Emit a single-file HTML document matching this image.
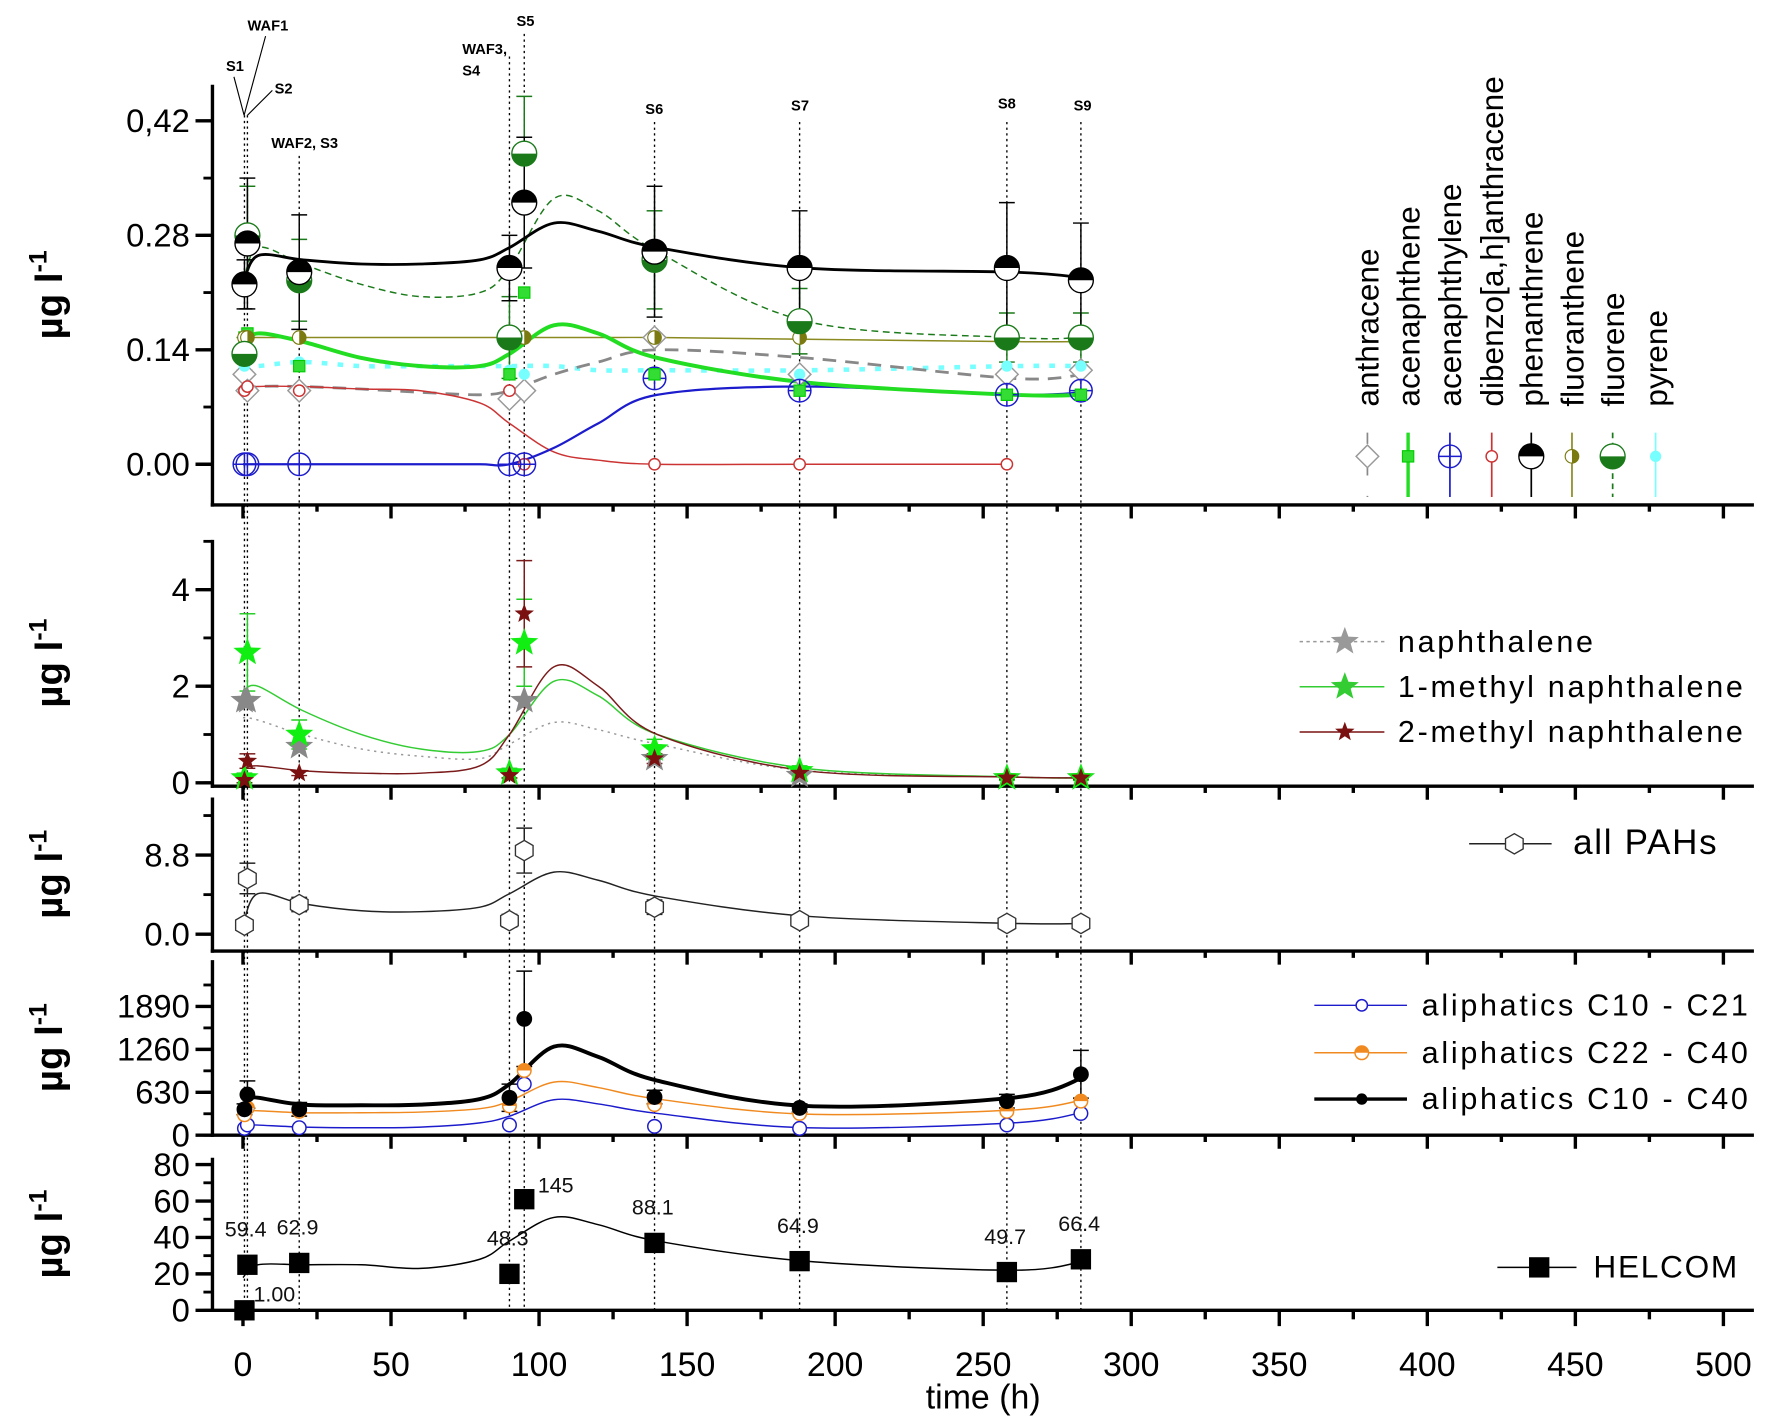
<!DOCTYPE html>
<html><head><meta charset="utf-8"><style>
html,body{margin:0;padding:0;background:#fff}
svg{display:block;font-family:"Liberation Sans",Arial,sans-serif}
</style></head><body>
<svg id="chart" width="1772" height="1421" viewBox="0 0 1568 1258" preserveAspectRatio="none" xmlns="http://www.w3.org/2000/svg"></svg>
<script>
// ---------- data ----------
const sampleTimes = [0.5, 1.5, 19, 90, 95, 139, 188, 258, 283];
const fitTimes = [0, 5, 20, 40, 60, 80, 90, 105, 120, 140, 190, 260, 284];
const xTicks = [0, 50, 100, 150, 200, 250, 300, 350, 400, 450, 500];
// panel 1
const p1Ticks = [0, 0.14, 0.28, 0.42];
const p1TickLabels = ["0.00", "0.14", "0.28", "0,42"];
const phenVals = [0.22, 0.27, 0.235, 0.24, 0.32, 0.26, 0.24, 0.24, 0.225];
const phenErr = [0.03, 0.08, 0.07, 0.04, 0.08, 0.08, 0.07, 0.08, 0.07];
const phenFit = [0.22, 0.255, 0.25, 0.245, 0.245, 0.25, 0.265, 0.295, 0.285, 0.265, 0.24, 0.235, 0.228];
const fluoreneVals = [0.135, 0.28, 0.225, 0.155, 0.38, 0.25, 0.175, 0.155, 0.155];
const fluoreneErr = [0.02, 0.06, 0.05, 0.05, 0.07, 0.06, 0.04, 0.03, 0.03];
const fluoreneFit = [0.22, 0.265, 0.245, 0.22, 0.205, 0.21, 0.24, 0.325, 0.31, 0.26, 0.175, 0.155, 0.155];
const acenVals = [0.155, 0.16, 0.12, 0.11, 0.21, 0.11, 0.09, 0.085, 0.085];
const acenFit = [0.145, 0.16, 0.15, 0.13, 0.12, 0.12, 0.135, 0.17, 0.16, 0.13, 0.1, 0.085, 0.085];
const acenyVals = [0, 0, 0, 0, 0, 0.105, 0.09, 0.085, 0.09];
const acenyFit = [0, 0, 0, 0, 0, 0, 0, 0.02, 0.05, 0.085, 0.095, 0.085, 0.088];
const dibenzVals = [0.09, 0.095, 0.09, 0.09, 0, 0, 0, 0];
const dibenzFit = [0.09, 0.095, 0.095, 0.092, 0.09, 0.075, 0.05, 0.015, 0.005, 0, 0, 0];
const anthVals = [0.11, 0.09, 0.09, 0.08, 0.09, 0.155, 0.11, 0.11, 0.115];
const anthFit = [0.09, 0.095, 0.095, 0.092, 0.088, 0.085, 0.09, 0.11, 0.125, 0.14, 0.13, 0.105, 0.11];
const pyreneVals = [0.12, 0.13, 0.125, 0.115, 0.11, 0.11, 0.11, 0.12, 0.12];
const pyreneFit = [0.12, 0.12, 0.125, 0.12, 0.12, 0.12, 0.12, 0.12, 0.115, 0.115, 0.115, 0.12, 0.12];
const fluorantVals = [0.155, 0.155, 0.155, 0.155, 0.155, 0.155, 0.155, 0.15, 0.15];
const fluorantFit = [0.155, 0.155, 0.155, 0.155, 0.155, 0.155, 0.155, 0.155, 0.155, 0.155, 0.153, 0.15, 0.15];
// panel 2
const p2Ticks = [0, 2, 4];
const naphVals = [1.7, 1.7, 0.75, 0.2, 1.7, 0.5, 0.15, 0.1, 0.1];
const naphFit = [1.35, 1.3, 1.0, 0.7, 0.55, 0.5, 0.8, 1.25, 1.1, 0.8, 0.25, 0.12, 0.1];
const m1Vals = [0.1, 2.7, 1.0, 0.2, 2.9, 0.7, 0.25, 0.1, 0.1];
const m1Err = [0.1, 0.8, 0.3, 0.1, 0.9, 0.2, 0.1, 0.05, 0.05];
const m1Fit = [1.9, 2.0, 1.5, 1.0, 0.7, 0.65, 1.0, 2.1, 1.8, 1.0, 0.3, 0.12, 0.1];
const m2Vals = [0.05, 0.45, 0.2, 0.15, 3.5, 0.5, 0.2, 0.1, 0.1];
const m2Err = [0.05, 0.15, 0.05, 0.05, 1.1, 0.1, 0.05, 0.03, 0.03];
const m2Fit = [0.3, 0.35, 0.25, 0.2, 0.2, 0.35, 1.0, 2.4, 2.0, 1.0, 0.25, 0.12, 0.1];
// panel 3
const p3Ticks = [0, 8.8];
const p3TickLabels = ["0.0", "8.8"];
const pahVals = [1.0, 6.2, 3.3, 1.5, 9.3, 3.0, 1.5, 1.2, 1.2];
const pahErr = [0.6, 1.7, 0.8, 0.7, 2.5, 0.8, 0.5, 0.4, 0.4];
const pahFit = [1.0, 4.5, 3.4, 2.6, 2.5, 3.0, 4.5, 6.9, 6.0, 4.2, 2.0, 1.2, 1.2];
// panel 4
const p4Ticks = [0, 630, 1260, 1890];
const aliTotVals = [380, 597, 380, 550, 1708, 560, 400, 500, 895];
const aliTotErr = [80, 200, 100, 200, 700, 100, 60, 100, 350];
const aliTotFit = [560, 550, 450, 440, 450, 530, 750, 1300, 1150, 800, 430, 550, 850];
const aliHeavyVals = [300, 400, 350, 430, 950, 450, 320, 350, 500];
const aliHeavyFit = [350, 360, 330, 330, 340, 390, 500, 780, 700, 530, 310, 370, 520];
const aliLightVals = [100, 150, 110, 150, 750, 130, 100, 150, 320];
const aliLightFit = [150, 150, 120, 110, 120, 180, 280, 520, 460, 320, 110, 180, 340];
// panel 5
const p5Ticks = [0, 20, 40, 60, 80];
const helcomVals = [0, 25, 26, 20, 61, 37, 27, 21, 28];
const helcomLabels = ["1.00", "59.4", "62.9", "48.3", "145", "88.1", "64.9", "49.7", "66.4"];
const helcomFit = [18, 25, 25, 25, 23, 28, 38, 51, 47, 38, 27, 22, 27];

// ---------- helpers ----------
const svg = document.getElementById('chart');
const NS = 'http://www.w3.org/2000/svg';
function mk(tag, attrs, parent) {
  const e = document.createElementNS(NS, tag);
  for (const k in attrs) e.setAttribute(k, attrs[k]);
  (parent || svg).appendChild(e);
  return e;
}
const X0 = 215, X1 = 1525, AXL = 188, AXR = 1552;
function xs(t) { return X0 + (X1 - X0) * t / 500; }
function ysF(v0, y0, v1, y1) { return v => y0 + (v - v0) * (y1 - y0) / (v1 - v0); }
const panels = [
  { y: ysF(0, 411, 0.42, 107), top: 75, bot: 447, minor: 0.07, max: 0.49 },
  { y: ysF(0, 693, 4, 522), top: 478, bot: 696, minor: 1, max: 5 },
  { y: ysF(0, 827, 8.8, 757), top: 706, bot: 842, minor: 4.4, max: 15 },
  { y: ysF(0, 1005, 1890, 891), top: 850, bot: 1005, minor: 315, max: 2500 },
  { y: ysF(0, 1160, 80, 1031), top: 1025, bot: 1160, minor: 10, max: 84 }
];
function smooth(pts) {
  if (pts.length < 2) return '';
  let d = 'M' + pts[0][0].toFixed(1) + ',' + pts[0][1].toFixed(1);
  for (let i = 0; i < pts.length - 1; i++) {
    const p0 = pts[i - 1] || pts[i], p1 = pts[i], p2 = pts[i + 1], p3 = pts[i + 2] || p2;
    const c1x = p1[0] + (p2[0] - p0[0]) / 6, c1y = p1[1] + (p2[1] - p0[1]) / 6;
    const c2x = p2[0] - (p3[0] - p1[0]) / 6, c2y = p2[1] - (p3[1] - p1[1]) / 6;
    d += ' C' + c1x.toFixed(1) + ',' + c1y.toFixed(1) + ' ' + c2x.toFixed(1) + ',' + c2y.toFixed(1) + ' ' + p2[0].toFixed(1) + ',' + p2[1].toFixed(1);
  }
  return d;
}
function fitLine(p, vals, name, color, width, dash) {
  const pts = vals.map((v, i) => [xs(fitTimes[i]), p.y(v)]);
  const e = mk('path', { d: smooth(pts), fill: 'none', stroke: color, 'stroke-width': width, 'stroke-dasharray': dash || 'none' });
  
  
}
function errBars(p, vals, errs, color, name) {
  const g = mk('g', { stroke: color, 'stroke-width': 1.3 });
  
  
  vals.forEach((v, i) => {
    const x = xs(sampleTimes[i]), ya = p.y(v + errs[i]), yb = p.y(Math.max(0, v - errs[i]));
    mk('line', { x1: x, x2: x, y1: ya, y2: yb }, g);
    mk('line', { x1: x - 7, x2: x + 7, y1: ya, y2: ya }, g);
    mk('line', { x1: x - 7, x2: x + 7, y1: yb, y2: yb }, g);
  });
}
function starPath(cx, cy, r) {
  let d = '';
  for (let i = 0; i < 10; i++) {
    const a = -Math.PI / 2 + i * Math.PI / 5, rr = i % 2 ? r * 0.42 : r;
    d += (i ? 'L' : 'M') + (cx + rr * Math.cos(a)).toFixed(1) + ',' + (cy + rr * Math.sin(a)).toFixed(1);
  }
  return d + 'Z';
}
function marker(kind, cx, cy, g) {
  if (kind === 'halfTop' || kind === 'halfBot') {
    const r = 11, c = g._color;
    mk('circle', { cx, cy, r, fill: '#fff', stroke: kind === 'halfTop' ? '#000' : '#1a7a1a', 'stroke-width': 1.2 }, g);
    const sweep = kind === 'halfTop' ? `M${cx - r},${cy} A${r},${r} 0 0 1 ${cx + r},${cy} Z` : `M${cx - r},${cy} A${r},${r} 0 0 0 ${cx + r},${cy} Z`;
    mk('path', { d: sweep, fill: c }, g);
  } else if (kind === 'circlePlus') {
    mk('circle', { cx, cy, r: 10, fill: 'none', stroke: '#1c1ccc', 'stroke-width': 1.3 }, g);
    mk('path', { d: `M${cx - 10},${cy}H${cx + 10}M${cx},${cy - 10}V${cy + 10}`, stroke: '#1c1ccc', 'stroke-width': 1.3 }, g);
  } else if (kind === 'smallCircle') {
    mk('circle', { cx, cy, r: 5, fill: '#fff', stroke: g._color, 'stroke-width': 1.3 }, g);
  } else if (kind === 'diamond') {
    mk('path', { d: `M${cx},${cy - 10}L${cx + 10},${cy}L${cx},${cy + 10}L${cx - 10},${cy}Z`, fill: '#fff', stroke: '#999', 'stroke-width': 1.3 }, g);
  } else if (kind === 'square') {
    mk('rect', { x: cx - 5, y: cy - 5, width: 10, height: 10, fill: '#3d3', stroke: '#0c0' }, g);
  } else if (kind === 'halfLeft') {
    mk('circle', { cx, cy, r: 6, fill: '#fff', stroke: '#7a7a10' }, g);
    mk('path', { d: `M${cx},${cy - 6} A6,6 0 0 1 ${cx},${cy + 6} Z`, fill: '#7a7a10' }, g);
  } else if (kind === 'pyrene') {
    mk('circle', { cx, cy, r: 5, fill: '#7ff' }, g);
  } else if (kind === 'star') {
    mk('path', { d: starPath(cx, cy, g._size), fill: g._color }, g);
  } else if (kind === 'hex') {
    let d = '';
    for (let i = 0; i < 6; i++) { const a = Math.PI / 6 + i * Math.PI / 3; d += (i ? 'L' : 'M') + (cx + 9 * Math.cos(a)).toFixed(1) + ',' + (cy + 9 * Math.sin(a)).toFixed(1); }
    mk('path', { d: d + 'Z', fill: '#fff', stroke: '#333', 'stroke-width': 1.2 }, g);
  } else if (kind === 'dot') {
    mk('circle', { cx, cy, r: g._size, fill: g._color, stroke: g._stroke || 'none', 'stroke-width': 1.3 }, g);
  } else if (kind === 'halfOrange') {
    mk('circle', { cx, cy, r: 6, fill: '#fff', stroke: '#f08a20', 'stroke-width': 1.3 }, g);
    mk('path', { d: `M${cx - 6},${cy} A6,6 0 0 1 ${cx + 6},${cy} Z`, fill: '#f08a20' }, g);
  } else if (kind === 'bigSquare') {
    mk('rect', { x: cx - 9, y: cy - 9, width: 18, height: 18, fill: '#000' }, g);
  }
}
function points(p, vals, kind, name, color, size, stroke) {
  const g = mk('g', {});
  
  
  g._color = color; g._size = size; g._stroke = stroke;
  vals.forEach((v, i) => marker(kind, xs(sampleTimes[i]), p.y(v), g));
}

// ---------- sample dotted lines ----------
const vg = mk('g', { stroke: '#000', 'stroke-width': 1.2, 'stroke-dasharray': '2,3' });


const lineTops = [102, 102, 138, 50, 30, 108, 108, 108, 108];
sampleTimes.forEach((t, i) => mk('line', { x1: xs(t), x2: xs(t), y1: lineTops[i], y2: 1160 }, vg));

// ---------- axes ----------
const tickSets = [p1Ticks, p2Ticks, p3Ticks, p4Ticks, p5Ticks];
const tickLabelSets = [p1TickLabels, p2Ticks.map(String), p3TickLabels, p4Ticks.map(String), p5Ticks.map(String)];
panels.forEach((p, pi) => {
  const g = mk('g', { stroke: '#000' });
  
  
  mk('line', { x1: AXL, x2: AXL, y1: p.top, y2: p.bot + 1.5, 'stroke-width': 3 }, g);
  mk('line', { x1: AXL - 1.5, x2: AXR, y1: p.bot, y2: p.bot, 'stroke-width': 3 }, g);
  for (let v = 0; v <= p.max; v += p.minor) mk('line', { x1: AXL - 8, x2: AXL, y1: p.y(v), y2: p.y(v), 'stroke-width': 2.5 }, g);
  tickSets[pi].forEach((v, i) => {
    mk('line', { x1: AXL - 15, x2: AXL, y1: p.y(v), y2: p.y(v), 'stroke-width': 3 }, g);
    const t = mk('text', { x: AXL - 20, y: p.y(v) + 10, 'text-anchor': 'end', 'font-size': 29, stroke: 'none', fill: '#000' }, g);
    t.textContent = tickLabelSets[pi][i];
  });
  for (let t = 0; t <= 500; t += 25) {
    const major = t % 50 === 0;
    mk('line', { x1: xs(t), x2: xs(t), y1: p.bot, y2: p.bot + (pi === 4 ? (major ? 14 : 8) : (major ? 12 : 6)), 'stroke-width': 3 }, g);
  }
  const yl = mk('text', { transform: `translate(55,${(p.top + p.bot) / 2}) rotate(-90)`, 'text-anchor': 'middle', 'font-size': 34, 'font-weight': 'bold', stroke: 'none', fill: '#000' }, g);
  
  
  yl.innerHTML = 'µg l<tspan dy="-14" font-size="22">-1</tspan>';
});
const xg = mk('g', {});


xTicks.forEach(t => { const e = mk('text', { x: xs(t), y: 1218, 'text-anchor': 'middle', 'font-size': 30 }, xg); e.textContent = t; });
const xt = mk('text', { x: 870, y: 1247, 'text-anchor': 'middle', 'font-size': 30 });


xt.textContent = 'time (h)';

// ---------- annotations ----------
const ag = mk('g', { 'font-size': 13, 'font-weight': 'bold' });


[['S1', 200, 63], ['WAF1', 219, 27], ['S2', 243, 83], ['WAF2, S3', 240, 131], ['WAF3,', 409, 48], ['S4', 409, 67], ['S5', 457, 23], ['S6', 571, 101], ['S7', 700, 98], ['S8', 883, 96], ['S9', 950, 98]]
  .forEach(a => { const e = mk('text', { x: a[1], y: a[2] }, ag); e.textContent = a[0]; });
mk('path', { d: 'M207,68L216,102M235,32L216,102M241,80L219,102', stroke: '#000', 'stroke-width': 1, fill: 'none' }, ag);

// ---------- panel 1 series ----------
const P1 = panels[0];
fitLine(P1, fluorantFit, 'fluoranthene-fit', '#8a8a20', 1.3);
fitLine(P1, pyreneFit, 'pyrene-fit', '#7ff', 4, '5,9');
fitLine(P1, anthFit, 'anthracene-fit', '#888', 2.5, '12,8');
fitLine(P1, dibenzFit, 'dibenzanthracene-fit', '#c33', 1.3);
fitLine(P1, acenyFit, 'acenaphthylene-fit', '#1c1ccc', 2);
fitLine(P1, acenFit, 'acenaphthene-fit', '#2d2', 3.5);
fitLine(P1, fluoreneFit, 'fluorene-fit', '#1a7a1a', 1.3, '6,4');
fitLine(P1, phenFit, 'phenanthrene-fit', '#000', 2.5);
errBars(P1, fluoreneVals, fluoreneErr, '#1a7a1a', 'fluorene-error-bars');
errBars(P1, phenVals, phenErr, '#000', 'phenanthrene-error-bars');
points(P1, anthVals, 'diamond', 'anthracene-points');
points(P1, pyreneVals, 'pyrene', 'pyrene-points');
points(P1, dibenzVals, 'smallCircle', 'dibenzanthracene-points', '#c33');
points(P1, acenyVals, 'circlePlus', 'acenaphthylene-points');
points(P1, acenVals, 'square', 'acenaphthene-points');
points(P1, fluorantVals, 'halfLeft', 'fluoranthene-points');
points(P1, fluoreneVals, 'halfBot', 'fluorene-points', '#1a7a1a');
points(P1, phenVals, 'halfTop', 'phenanthrene-points', '#000');

// panel 1 legend (rotated)
const legNames = ['anthracene', 'acenaphthene', 'acenaphthylene', 'dibenzo[a,h]anthracene', 'phenanthrene', 'fluoranthene', 'fluorene', 'pyrene'];
const legX = [1210, 1246, 1283, 1320, 1355, 1391, 1427, 1465];
const legColors = ['#888', '#2d2', '#1c1ccc', '#c33', '#000', '#8a8a20', '#1a7a1a', '#7ff'];
const legKinds = ['diamond', 'square', 'circlePlus', 'smallCircle', 'halfTop', 'halfLeft', 'halfBot', 'pyrene'];
legNames.forEach((n, i) => {
  const g = mk('g', {});
  
  
  const t = mk('text', { transform: `translate(${legX[i] + 10},360) rotate(-90)`, 'font-size': 28 }, g);
  t.textContent = n;
  mk('line', { x1: legX[i], x2: legX[i], y1: 383, y2: 440, stroke: legColors[i], 'stroke-width': i === 1 ? 3 : 1.5, 'stroke-dasharray': i === 0 ? '10,18' : (i === 6 ? '5,4' : 'none') }, g);
  g._color = legColors[i];
  marker(legKinds[i], legX[i], 404, g);
});

// ---------- panel 2 ----------
const P2 = panels[1];
fitLine(P2, naphFit, 'naphthalene-fit', '#999', 1.3, '2,4');
fitLine(P2, m1Fit, '1-methyl-naphthalene-fit', '#3c3', 1.3);
fitLine(P2, m2Fit, '2-methyl-naphthalene-fit', '#7a1a1a', 1.3);
errBars(P2, m1Vals, m1Err, '#2c2', '1-methyl-error-bars');
errBars(P2, m2Vals, m2Err, '#7a1a1a', '2-methyl-error-bars');
points(P2, naphVals, 'star', 'naphthalene-points', '#888', 13);
points(P2, m1Vals, 'star', '1-methyl-naphthalene-points', '#1e1', 13);
points(P2, m2Vals, 'star', '2-methyl-naphthalene-points', '#7a1010', 9);
function lineLegend(name, label, x1, x2, mx, tx, y, color, dash, kind, size, w, fs, ls) {
  const g = mk('g', {});
  
  
  mk('line', { x1, x2, y1: y, y2: y, stroke: color, 'stroke-width': w || 1.3, 'stroke-dasharray': dash || 'none' }, g);
  g._color = color; g._size = size;
  marker(kind, mx, y, g);
  const t = mk('text', { x: tx, y: y + 9, 'font-size': fs || 27, 'letter-spacing': ls == null ? 2.4 : ls }, g);
  t.textContent = label;
}
lineLegend('legend-naphthalene', 'naphthalene', 1150, 1225, 1190, 1237, 568, '#999', '3,3', 'star', 13);
lineLegend('legend-1-methyl-naphthalene', '1-methyl naphthalene', 1150, 1225, 1190, 1237, 608, '#3c3', null, 'star', 13);
lineLegend('legend-2-methyl-naphthalene', '2-methyl naphthalene', 1150, 1225, 1190, 1237, 648, '#7a1010', null, 'star', 9);

// ---------- panel 3 ----------
const P3 = panels[2];
fitLine(P3, pahFit, 'all-pahs-fit', '#222', 1.3);
errBars(P3, pahVals, pahErr, '#222', 'all-pahs-error-bars');
points(P3, pahVals, 'hex', 'all-pahs-points');
lineLegend('legend-all-pahs', 'all PAHs', 1300, 1373, 1340, 1392, 747, '#222', null, 'hex', 0, 1.3, 31, 1.5);

// ---------- panel 4 ----------
const P4 = panels[3];
fitLine(P4, aliLightFit, 'aliphatics-c10-c21-fit', '#1c1ccc', 1.3);
fitLine(P4, aliHeavyFit, 'aliphatics-c22-c40-fit', '#f08a20', 1.3);
fitLine(P4, aliTotFit, 'aliphatics-c10-c40-fit', '#000', 3.5);
errBars(P4, aliTotVals, aliTotErr, '#000', 'aliphatics-c10-c40-error-bars');
points(P4, aliLightVals, 'dot', 'aliphatics-c10-c21-points', '#fff', 6, '#1c1ccc');
points(P4, aliHeavyVals, 'halfOrange', 'aliphatics-c22-c40-points');
points(P4, aliTotVals, 'dot', 'aliphatics-c10-c40-points', '#000', 7);
lineLegend('legend-aliphatics-c10-c21', 'aliphatics C10 - C21', 1163, 1245, 1205, 1258, 890, '#1c1ccc', null, 'dot', 5);
svg.lastChild.querySelector('circle').setAttribute('fill', '#fff');
svg.lastChild.querySelector('circle').setAttribute('stroke', '#1c1ccc');
lineLegend('legend-aliphatics-c22-c40', 'aliphatics C22 - C40', 1163, 1245, 1205, 1258, 932, '#f08a20', null, 'halfOrange');
lineLegend('legend-aliphatics-c10-c40', 'aliphatics C10 - C40', 1163, 1245, 1205, 1258, 973, '#000', null, 'dot', 5, 3);

// ---------- panel 5 ----------
const P5 = panels[4];
fitLine(P5, helcomFit, 'helcom-fit', '#000', 1.3);
points(P5, helcomVals, 'bigSquare', 'helcom-points');
const hl = mk('g', { 'font-size': 19, fill: '#111' });


const lblDx = [8, -20, -20, -20, 12, -20, -20, -20, -20];
const lblDy = [-8, -25, -25, -25, -6, -25, -25, -25, -25];
helcomLabels.forEach((s, i) => {
  const e = mk('text', { x: xs(sampleTimes[i]) + lblDx[i], y: P5.y(helcomVals[i]) + lblDy[i] }, hl);
  e.textContent = s;
});
lineLegend('legend-helcom', 'HELCOM', 1325, 1395, 1362, 1410, 1122, '#000', null, 'bigSquare', 0, 1.3, 28, 1.5);
</script>
</body></html>
